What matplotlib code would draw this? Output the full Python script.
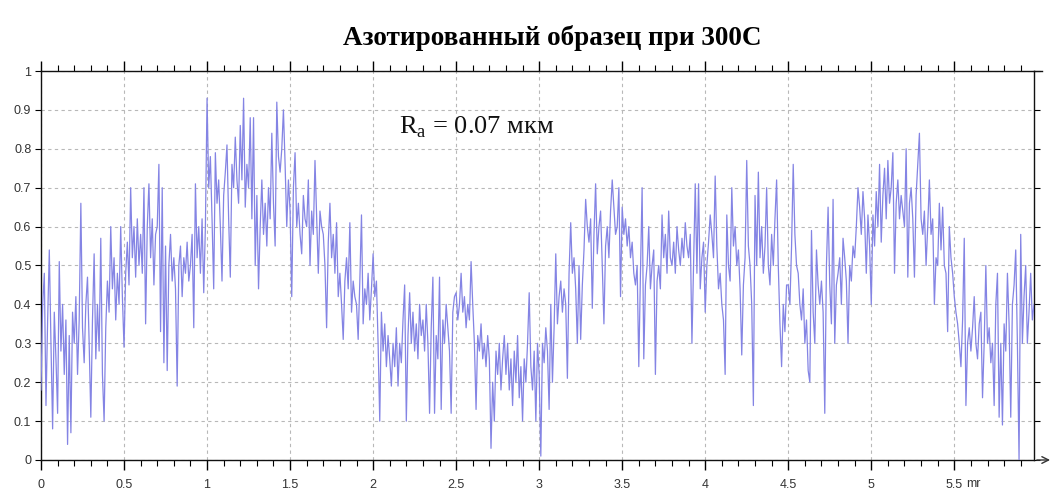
import matplotlib.pyplot as plt
from matplotlib.ticker import MultipleLocator, FuncFormatter
import numpy as np

plt.rcParams.update({
    "font.family": ["Liberation Sans", "DejaVu Sans"],
    "axes.linewidth": 1.0,
})

TITLE = "Азотированный образец при 300С"
RA_LABEL = r"R$_\mathregular{a}$ = 0.07 мкм"

# profile height, sampled every STEP along the trace (values in hundredths)
STEP = 0.01
profile = [
    18, 40, 48, 14, 36, 54, 30, 8, 38, 26,
    12, 51, 28, 40, 22, 36, 4, 32, 7, 38,
    30, 42, 22, 36, 66, 34, 25, 40, 47, 30,
    11, 36, 53, 26, 40, 28, 57, 22, 10, 34,
    46, 38, 60, 44, 52, 36, 48, 40, 60, 42,
    29, 48, 56, 45, 70, 52, 60, 47, 62, 50,
    58, 48, 70, 35, 60, 71, 52, 62, 45, 58,
    60, 76, 33, 70, 25, 55, 23, 50, 58, 46,
    52, 44, 19, 50, 55, 42, 52, 48, 56, 46,
    50, 58, 34, 71, 52, 60, 48, 62, 43, 60,
    93, 70, 78, 62, 44, 79, 66, 72, 60, 46,
    68, 74, 81, 62, 47, 76, 70, 83, 72, 66,
    86, 72, 93, 65, 76, 70, 88, 62, 88, 50,
    68, 44, 60, 72, 58, 66, 55, 70, 62, 84,
    66, 55, 92, 78, 74, 80, 90, 76, 60, 72,
    64, 42, 70, 79, 60, 66, 58, 53, 68, 62,
    60, 72, 50, 64, 58, 77, 62, 48, 64, 60,
    58, 50, 34, 56, 66, 52, 58, 48, 61, 42,
    48, 40, 31, 46, 52, 44, 61, 38, 46, 42,
    40, 31, 46, 63, 35, 44, 40, 48, 36, 44,
    53, 42, 46, 30, 10, 38, 28, 35, 24, 32,
    26, 19, 30, 24, 34, 19, 30, 25, 36, 45,
    10, 32, 43, 30, 38, 28, 35, 26, 40, 32,
    36, 28, 40, 30, 12, 34, 47, 12, 32, 26,
    47, 13, 36, 30, 40, 34, 28, 12, 38, 42,
    43, 36, 40, 48, 38, 42, 34, 40, 36, 51,
    40, 30, 13, 32, 28, 35, 26, 30, 24, 32,
    26, 3, 20, 10, 28, 22, 30, 18, 26, 32,
    22, 30, 18, 26, 14, 28, 20, 32, 16, 24,
    10, 26, 20, 30, 43, 24, 18, 28, 10, 30,
    22, 1, 30, 25, 34, 28, 13, 40, 20, 34,
    53, 35, 42, 46, 38, 44, 40, 21, 48, 61,
    48, 52, 44, 30, 50, 31, 45, 54, 67, 60,
    56, 62, 39, 58, 71, 53, 60, 64, 50, 35,
    55, 60, 52, 64, 72, 65, 58, 60, 70, 42,
    65, 58, 62, 55, 60, 52, 56, 48, 45, 50,
    24, 48, 70, 26, 45, 50, 60, 44, 50, 54,
    22, 46, 50, 44, 63, 52, 58, 48, 64, 52,
    50, 56, 48, 60, 54, 50, 57, 52, 61, 55,
    52, 58, 30, 50, 71, 48, 71, 44, 52, 56,
    38, 50, 56, 63, 58, 52, 73, 55, 44, 48,
    40, 36, 22, 63, 50, 46, 70, 55, 60, 50,
    54, 44, 27, 45, 52, 77, 55, 50, 40, 14,
    68, 50, 74, 52, 60, 48, 55, 70, 50, 45,
    58, 50, 62, 72, 50, 35, 24, 40, 33, 45,
    45, 40, 55, 76, 58, 50, 48, 40, 36, 44,
    30, 36, 23, 20, 59, 38, 30, 54, 45, 40,
    46, 38, 12, 50, 65, 45, 35, 67, 30, 45,
    48, 52, 40, 57, 52, 46, 30, 50, 46, 55,
    52, 60, 70, 65, 58, 69, 62, 48, 63, 55,
    40, 63, 55, 69, 60, 76, 56, 68, 75, 62,
    77, 66, 70, 79, 48, 66, 72, 62, 68, 64,
    60, 80, 47, 66, 70, 62, 47, 68, 76, 84,
    62, 58, 64, 50, 60, 72, 58, 62, 40, 52,
    50, 66, 54, 65, 50, 48, 33, 60, 52, 48,
    42, 38, 35, 30, 24, 36, 57, 14, 30, 34,
    28, 34, 42, 30, 26, 35, 38, 16, 30, 50,
    30, 34, 25, 30, 14, 40, 48, 11, 30, 9,
    35, 28, 48, 35, 11, 40, 45, 54, 30, 0,
    58, 30, 42, 50, 30, 38, 48, 36, 40,
]

x = np.arange(len(profile)) * STEP
y = np.array(profile) / 100.0

fig = plt.figure(figsize=(10.57, 4.93), dpi=100)
ax = fig.add_axes([41 / 1057, 33 / 493, 993 / 1057, 389 / 493])

ax.plot(x, y, color="#8484e4", lw=0.9, zorder=3)

ax.set_xlim(0, 5.98)
ax.set_ylim(0, 1)

ax.xaxis.set_major_locator(MultipleLocator(0.5))
ax.xaxis.set_minor_locator(MultipleLocator(0.1))
ax.yaxis.set_major_locator(MultipleLocator(0.1))
ax.xaxis.set_major_formatter(FuncFormatter(lambda v, _: f"{v:g}"))
ax.yaxis.set_major_formatter(FuncFormatter(lambda v, _: f"{v:g}"))

ax.grid(True, which="major", color="#b8b8b8", lw=0.8, ls=(0, (3, 3)), zorder=1)

ax.tick_params(axis="x", which="major", direction="out", length=7, width=1,
               top=True, labelsize=9, labelcolor="#333333", pad=7)
ax.tick_params(axis="x", which="minor", direction="out", length=4, width=0.8,
               top=True)
ax.tick_params(axis="y", which="major", direction="out", length=4, width=0.8,
               right=True, labelsize=9, labelcolor="#333333", pad=3)

for s in ax.spines.values():
    s.set_color("#111111")

# axis extensions past the right frame, with the arrow on the x axis
ax.plot([1.0, 1.008], [1, 1], transform=ax.transAxes, color="#111111",
        lw=1.0, clip_on=False)
ax.annotate("", xy=(1.019, 0), xytext=(1.0, 0), xycoords="axes fraction",
            arrowprops=dict(arrowstyle="->", color="#333333", lw=1.0,
                            mutation_scale=12), annotation_clip=False)

# unit label next to the last tick label, on the tick-label baseline
ax.text(5.57, -0.069, "mr", ha="left", va="baseline", fontsize=9,
        color="#333333", clip_on=False)

ax.text(2.157, 0.84, RA_LABEL, fontsize=19, family="Liberation Serif",
        ha="left", va="baseline", color="#111111", zorder=4)

fig.text(0.522, 0.909, TITLE, fontsize=19.5, fontweight="bold",
         family="Liberation Serif", ha="center", va="baseline")

fig.savefig("out.png", dpi=100)
